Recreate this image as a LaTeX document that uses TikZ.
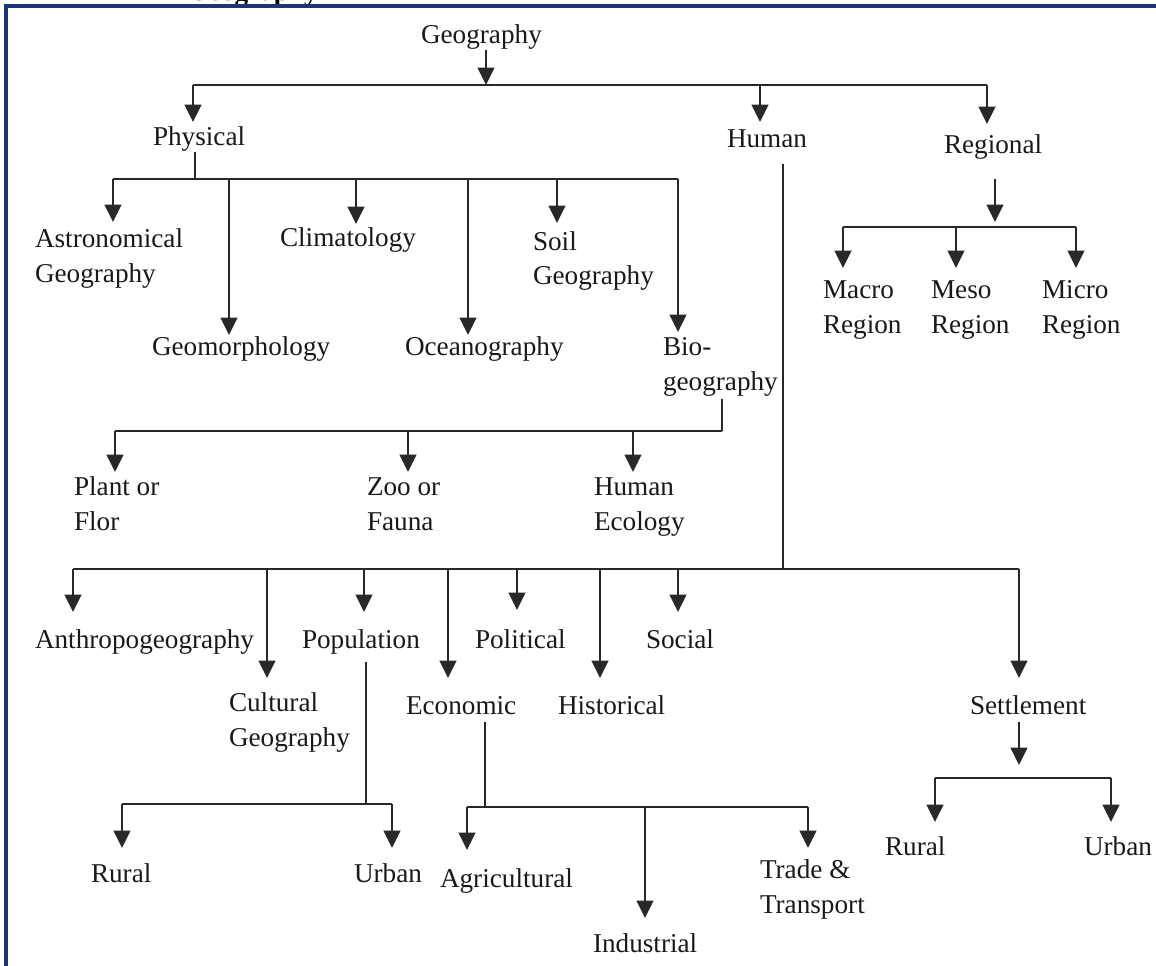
\documentclass[tikz,border=0pt]{standalone}
\usepackage{fontspec}
\setmainfont{Liberation Serif}
\usetikzlibrary{arrows.meta}
\definecolor{frame}{RGB}{28,52,120}
\definecolor{linecol}{RGB}{40,40,40}
\begin{document}
\begin{tikzpicture}[x=0.75pt,y=-0.75pt,
  lbl/.style={inner sep=0pt, outer sep=0pt, font=\fontsize{20.4}{26}\selectfont, align=left, anchor=base west, text=black!90},
  ln/.style={draw=linecol, line width=1.4pt},
  arr/.style={ln, -{Triangle[length=13pt,width=12.5pt]}},
]
\useasboundingbox (0,0) rectangle (1156,966);
\clip (0,0) rectangle (1156,966);
\fill[white] (0,0) rectangle (1156,966);
\node[font=\bfseries\fontsize{20.4}{26}\selectfont, anchor=base east, inner sep=0pt] (ttl) at (318,1) {Geography};
\draw[draw=frame, line width=2.5pt] (6,990) -- (6,6) -- (1180,6);

% ---------- labels (multi-line labels are placed by their last baseline) ----------
\node[lbl] (geo) at (421,44) {Geography};
\node[lbl] (phys) at (153,146) {Physical};
\node[lbl] (human) at (727,148) {Human};
\node[lbl] (reg) at (944,154) {Regional};

\node[lbl] (astro) at (35,282) {Astronomical\\Geography};
\node[lbl] (clim) at (280,247) {Climatology};
\node[lbl] (soil) at (533,285) {Soil\\Geography};
\node[lbl] (geom) at (152,355) {Geomorphology};
\node[lbl] (ocean) at (405,355) {Oceanography};
\node[lbl] (bio) at (663,390) {Bio-\\geography};

\node[lbl] (macro) at (823,333) {Macro\\Region};
\node[lbl] (meso) at (931,333) {Meso\\Region};
\node[lbl] (micro) at (1042,333) {Micro\\Region};

\node[lbl] (plant) at (74,530) {Plant or\\Flor};
\node[lbl] (zoo) at (367,530) {Zoo or\\Fauna};
\node[lbl] (hecol) at (594,530) {Human\\Ecology};

\node[lbl] (anthro) at (35,648) {Anthropogeography};
\node[lbl] (pop) at (302,648) {Population};
\node[lbl] (polit) at (475,648) {Political};
\node[lbl] (social) at (646,648) {Social};
\node[lbl] (cult) at (229,746) {Cultural\\Geography};
\node[lbl] (econ) at (406,714) {Economic};
\node[lbl] (hist) at (558,714) {Historical};
\node[lbl] (settle) at (970,714) {Settlement};

\node[lbl] (prural) at (91,882) {Rural};
\node[lbl] (purban) at (354,882) {Urban};
\node[lbl] (agri) at (440,887) {Agricultural};
\node[lbl] (trade) at (760,913) {Trade \&\\Transport};
\node[lbl] (indus) at (593,952) {Industrial};
\node[lbl] (srural) at (885,855) {Rural};
\node[lbl] (surban) at (1084,855) {Urban};

% ---------- Geography -> Physical / Human / Regional ----------
\coordinate (b0) at (486,85);
\coordinate (tPhys) at (193,122);
\coordinate (tHuman) at (760,122);
\coordinate (tReg) at (987,124);
\draw[arr] (geo.south -| b0) -- (b0);
\draw[ln] (tPhys |- b0) -- (tReg |- b0);
\draw[arr] (tPhys |- b0) -- (tPhys);
\draw[arr] (tHuman |- b0) -- (tHuman);
\draw[arr] (tReg |- b0) -- (tReg);

% ---------- Physical ----------
\coordinate (b1) at (195,179);
\draw[ln] (phys.south -| b1) -- (b1);
\coordinate (tAstro) at (113,222);
\coordinate (tGeom) at (229,335);
\coordinate (tClim) at (356,224);
\coordinate (tOcean) at (468,335);
\coordinate (tSoil) at (557,223);
\coordinate (tBio) at (678,332);
\draw[ln] (tAstro |- b1) -- (tBio |- b1);
\foreach \t in {tAstro,tGeom,tClim,tOcean,tSoil,tBio}
  \draw[arr] (\t |- b1) -- (\t);

% ---------- Regional ----------
\coordinate (rStem) at (995,222);
\draw[arr] ([yshift=-14pt]reg.south -| rStem) -- (rStem);
\coordinate (b2) at (843,227);
\coordinate (tMacro) at (843,268);
\coordinate (tMeso) at (956,268);
\coordinate (tMicro) at (1076,268);
\draw[ln] (tMacro |- b2) -- (tMicro |- b2);
\foreach \t in {tMacro,tMeso,tMicro}
  \draw[arr] (\t |- b2) -- (\t);

% ---------- Biogeography ----------
\coordinate (b3) at (722,431);
\draw[ln] ([yshift=-2pt]bio.south -| b3) -- (b3);
\coordinate (tPlant) at (115,472);
\coordinate (tZoo) at (408,472);
\coordinate (tHecol) at (633,472);
\draw[ln] (tPlant |- b3) -- (b3);
\foreach \t in {tPlant,tZoo,tHecol}
  \draw[arr] (\t |- b3) -- (\t);

% ---------- Human ----------
\coordinate (b4) at (783,569);
\draw[ln] ([yshift=-12pt]human.south -| b4) -- (b4);
\coordinate (tAnthro) at (73,612);
\coordinate (tCult) at (267,678);
\coordinate (tPop) at (364,612);
\coordinate (tEcon) at (448,678);
\coordinate (tPolit) at (517,610);
\coordinate (tHist) at (600,678);
\coordinate (tSocial) at (678,612);
\coordinate (tSettle) at (1019,678);
\draw[ln] (tAnthro |- b4) -- (tSettle |- b4);
\foreach \t in {tAnthro,tCult,tPop,tEcon,tPolit,tHist,tSocial,tSettle}
  \draw[arr] (\t |- b4) -- (\t);

% ---------- Population ----------
\coordinate (b5) at (366,804);
\draw[ln] ([yshift=-6pt]pop.south -| b5) -- (b5);
\coordinate (tPRural) at (122,848);
\coordinate (tPUrban) at (392,848);
\draw[ln] (tPRural |- b5) -- (tPUrban |- b5);
\draw[arr] (tPRural |- b5) -- (tPRural);
\draw[arr] (tPUrban |- b5) -- (tPUrban);

% ---------- Economic ----------
\coordinate (b6) at (485,807);
\draw[ln] ([yshift=-6pt]econ.south -| b6) -- (b6);
\coordinate (tAgri) at (467,850);
\coordinate (tIndus) at (645,918);
\coordinate (tTrade) at (808,848);
\draw[ln] (tAgri |- b6) -- (tTrade |- b6);
\foreach \t in {tAgri,tIndus,tTrade}
  \draw[arr] (\t |- b6) -- (\t);

% ---------- Settlement ----------
\coordinate (sStem) at (1019,765);
\draw[arr] ([yshift=-6pt]settle.south -| sStem) -- (sStem);
\coordinate (b7) at (935,778);
\coordinate (tSRural) at (935,822);
\coordinate (tSUrban) at (1111,822);
\draw[ln] (tSRural |- b7) -- (tSUrban |- b7);
\draw[arr] (tSRural |- b7) -- (tSRural);
\draw[arr] (tSUrban |- b7) -- (tSUrban);
\end{tikzpicture}
\end{document}
